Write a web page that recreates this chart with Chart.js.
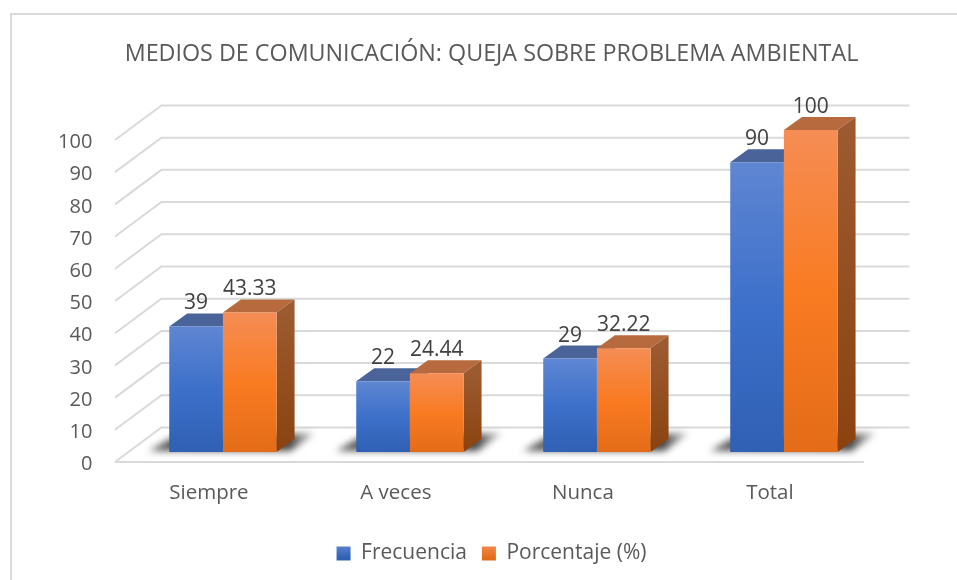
<!DOCTYPE html>
<html><head><meta charset="utf-8">
<style>html,body{margin:0;padding:0;background:#fff}canvas{display:block}</style>
<script src="https://cdn.jsdelivr.net/npm/chart.js@4"></script>
</head><body>
<div style="width:957px;height:580px"><canvas id="c" width="957" height="580"></canvas></div>
<script>
const categories = ["Siempre", "A veces", "Nunca", "Total"];
const frecuencia = [39, 22, 29, 90];
const porcentaje = [43.33, 24.44, 32.22, 100];
const yTicks = {min: 0, max: 100, step: 10};
const chartTitle = "MEDIOS DE COMUNICACIÓN: QUEJA SOBRE PROBLEMA AMBIENTAL";
const FONT = '"Open Sans"';
const DX = 18, DY = 13;

function barGrad(chart, value, stops) {
  const y = chart.scales.y;
  if (!y || !chart.chartArea) return stops[1];
  const top = y.getPixelForValue(value), bot = y.getPixelForValue(0);
  const g = chart.ctx.createLinearGradient(0, top, 0, bot);
  g.addColorStop(0, stops[0]); g.addColorStop(0.5, stops[1]); g.addColorStop(1, stops[2]);
  return g;
}
const BLUE = ["#5f86d2", "#3d70ca", "#2f60b4"];
const ORANGE = ["#f58d55", "#f97b22", "#e46c18"];
const TOPC = ["#4a6399", "#b76a3e"];
const SIDEC = [["#3a5590","#20427f"], ["#9c5a30","#8a430f"]];

const poly = (ctx, pts, fill) => {
  ctx.beginPath(); pts.forEach((p, i) => i ? ctx.lineTo(p[0], p[1]) : ctx.moveTo(p[0], p[1]));
  ctx.closePath(); ctx.fillStyle = fill; ctx.fill();
};

const wall = {
  id: "wall",
  beforeDatasetsDraw(chart) {
    const {ctx, chartArea: a, scales: {y}} = chart;
    ctx.save();
    // frame
    ctx.strokeStyle = "#d9d9d9"; ctx.lineWidth = 2;
    ctx.beginPath(); ctx.moveTo(11, 580); ctx.lineTo(11, 14); ctx.lineTo(957, 14); ctx.stroke();
    // grid
    ctx.strokeStyle = "#d9d9d9"; ctx.lineWidth = 2;
    y.ticks.forEach(t => {
      const p = y.getPixelForValue(t.value);
      ctx.beginPath();
      ctx.moveTo(a.left - 14.4, p + 10);
      ctx.lineTo(a.left + 32, p - 24.5);
      ctx.lineTo(a.right + 32, p - 24.5);
      ctx.stroke();
    });
    ctx.beginPath();
    const p0 = y.getPixelForValue(0);
    ctx.moveTo(a.left - 14.4, p0 + 10); ctx.lineTo(a.right - 13.5, p0 + 10); ctx.stroke();
    // floor shadow + bar depth
    const m0 = chart.getDatasetMeta(0).data, m1 = chart.getDatasetMeta(1).data;
    m0.forEach((b, i) => {
      const l = b.x - b.width / 2, r = m1[i].x + m1[i].width / 2, base = p0;
      ctx.save();
      ctx.filter = "blur(3.5px)";
      const g = ctx.createLinearGradient(l - 20, 0, r + 38, 0);
      g.addColorStop(0, "rgba(40,40,40,.75)"); g.addColorStop(.85, "rgba(40,40,40,.85)"); g.addColorStop(1, "rgba(90,90,90,.35)");
      poly(ctx, [[l - 20, base - 1], [l + 2, base - 14], [r + 38, base - 19], [r + 14, base - 1]], g);
      ctx.restore();
    });
    [m0, m1].forEach((meta, k) => meta.forEach(b => {
      const l = b.x - b.width / 2, r = b.x + b.width / 2, t = b.y, bt = b.base;
      poly(ctx, [[l, t], [l + DX, t - DY], [r + DX, t - DY], [r, t]], TOPC[k]);
      const g = ctx.createLinearGradient(0, t, 0, bt);
      g.addColorStop(0, SIDEC[k][0]); g.addColorStop(1, SIDEC[k][1]);
      poly(ctx, [[r, t], [r + DX, t - DY], [r + DX, bt - DY], [r, bt]], g);
    }));
    ctx.restore();
  },
  afterDatasetsDraw(chart) {
    const {ctx} = chart;
    ctx.save();
    ctx.font = "21px " + FONT; ctx.fillStyle = "#404040";
    ctx.textAlign = "center"; ctx.textBaseline = "middle";
    chart.data.datasets.forEach((ds, k) => chart.getDatasetMeta(k).data.forEach((b, i) => {
      ctx.fillText(String(ds.data[i]), b.x, b.y - 23);
    }));
    ctx.restore();
  }
};

new Chart(document.getElementById("c"), {
  type: "bar",
  plugins: [wall],
  data: {
    labels: categories,
    datasets: [
      {label: "Frecuencia", data: frecuencia, backgroundColor: c => barGrad(c.chart, c.raw === undefined ? 100 : c.raw, BLUE)},
      {label: "Porcentaje (%)", data: porcentaje, backgroundColor: c => barGrad(c.chart, c.raw === undefined ? 100 : c.raw, ORANGE)}
    ]
  },
  options: {
    responsive: false, animation: false,
    layout: {padding: {left: 26, right: 0, top: 0, bottom: 6}},
    datasets: {bar: {barPercentage: 1, categoryPercentage: 0.574}},
    plugins: {
      tooltip: {enabled: false},
      title: {display: true, text: chartTitle, color: "#595959", font: {family: FONT, size: 23.3, weight: "normal"}, padding: {top: 40, bottom: 62}},
      legend: {position: "bottom", labels: {
        color: "#595959", font: {family: FONT, size: 21}, boxWidth: 14, boxHeight: 14, padding: 15,
        generateLabels: chart => chart.data.datasets.map((d, i) => {
          const g = chart.ctx.createLinearGradient(0, 544, 0, 558);
          const s = i ? ORANGE : BLUE;
          g.addColorStop(0, s[0]); g.addColorStop(1, s[2]);
          return {text: d.label, fillStyle: g, strokeStyle: g, lineWidth: 0, datasetIndex: i, fontColor: "#595959"};
        })
      }}
    },
    scales: {
      x: {
        grid: {display: false}, border: {display: false},
        afterFit: s => { s.height = 76; },
        ticks: {color: "#595959", font: {family: FONT, size: 20.5}, labelOffset: -14, padding: 21, maxRotation: 0}
      },
      y: {
        min: yTicks.min, max: yTicks.max,
        grid: {display: false}, border: {display: false},
        afterFit: s => { s.width = 103.4; },
        ticks: {stepSize: yTicks.step, color: "#595959", font: {family: FONT, size: 20}, labelOffset: 12.5, padding: 29}
      },
      spacer: {
        position: "right", display: true,
        grid: {display: false}, border: {display: false}, ticks: {display: false},
        afterFit: s => { s.width = 79.6; }
      }
    }
  }
});
</script>
</body></html>
